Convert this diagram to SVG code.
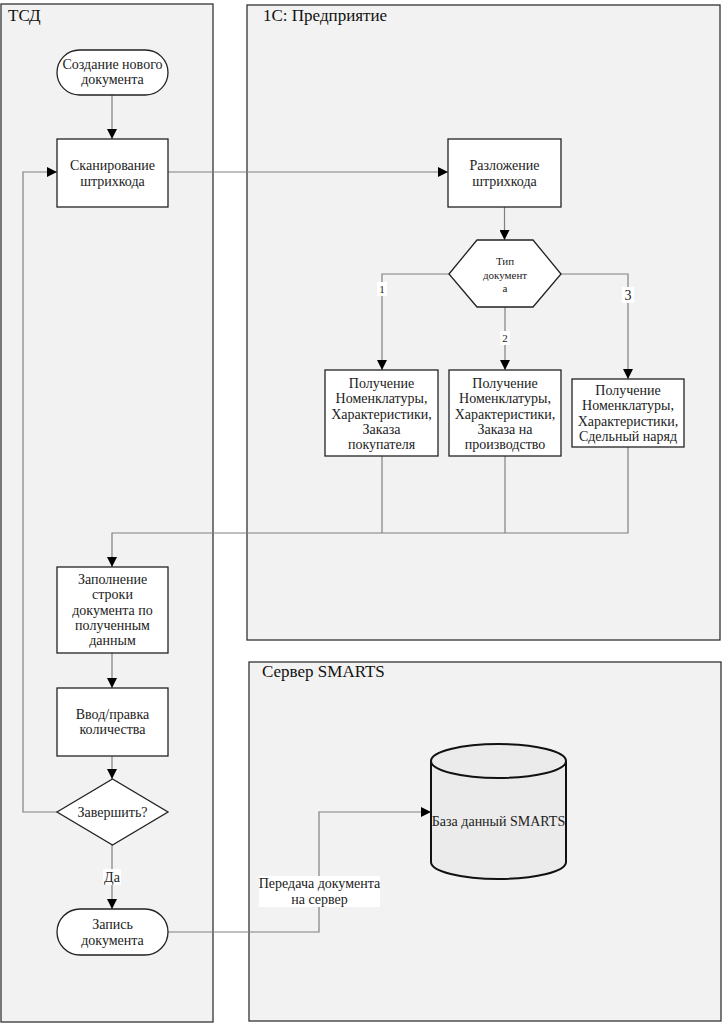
<svg xmlns="http://www.w3.org/2000/svg" width="723" height="1024" viewBox="0 0 723 1024">
<style>
.lane{fill:#f2f2f2;stroke:#333;stroke-width:1.3}
.node{fill:#fff;stroke:#222;stroke-width:1.3}
.db{fill:#ebebeb;stroke:#111;stroke-width:2}
.t{font-family:'Liberation Serif','DejaVu Serif',serif;font-size:14px;fill:#222;text-anchor:middle;dominant-baseline:central}
.s{font-family:'Liberation Serif','DejaVu Serif',serif;font-size:11px;fill:#222;text-anchor:middle;dominant-baseline:central}
.title{font-family:'Liberation Serif','DejaVu Serif',serif;font-size:17px;fill:#111}
.c{fill:none;stroke:#808080;stroke-width:1.2}
.ca{fill:none;stroke:#808080;stroke-width:1.2;marker-end:url(#arr)}
</style>
<defs>
<marker id="arr" viewBox="0 0 10 10" refX="10" refY="5" markerWidth="10" markerHeight="10" markerUnits="userSpaceOnUse" orient="auto">
<path d="M0,0 L10,5 L0,10 z" fill="#000"/>
</marker>
</defs>
<rect width="723" height="1024" fill="#fff"/>
<g id="lane-tsd"><rect class="lane" x="1" y="4" width="212" height="1018"/><text class="title" x="8" y="21">ТСД</text></g>
<g id="lane-1c"><rect class="lane" x="247" y="5" width="473" height="635"/><text class="title" x="263" y="21">1С: Предприятие</text></g>
<g id="lane-smarts"><rect class="lane" x="249" y="662" width="472" height="359"/><text class="title" x="262" y="677">Сервер SMARTS</text></g>

<g id="connectors">
<path class="ca" d="M112,95 L112,139"/>
<path class="ca" d="M168,172 L448,172"/>
<path class="ca" d="M504.5,207 L504.5,240"/>
<path class="ca" d="M449,274 L382,274 L382,370"/>
<path class="ca" d="M505,307 L505,370"/>
<path class="ca" d="M561,274 L628,274 L628,379"/>
<path class="c" d="M382,456 L382,533"/>
<path class="c" d="M505,456 L505,533"/>
<path class="ca" d="M628,447 L628,533 L112,533 L112,567"/>
<path class="ca" d="M112,653 L112,688"/>
<path class="ca" d="M112,756 L112,779"/>
<path class="ca" d="M57,812 L23,812 L23,172 L57,172"/>
<path class="ca" d="M112,845 L112,909"/>
<path class="ca" d="M168,932 L319,932 L319,812 L431,812"/>
<g id="label-1"><rect x="377" y="282" width="10" height="14" fill="#fff"/><text class="s" x="382" y="289">1</text></g>
<g id="label-2"><rect x="500" y="331" width="10" height="14" fill="#fff"/><text class="s" x="505" y="338">2</text></g>
<g id="label-3"><rect x="622" y="287" width="12" height="16" fill="#fff"/><text class="t" x="628" y="295">3</text></g>
<g id="label-da"><rect x="103" y="869" width="18" height="16" fill="#fff"/><text class="t" x="112" y="877">Да</text></g>
<g id="label-send"><rect x="259" y="876" width="121" height="31" fill="#fff"/><text class="t" x="319.5" y="883">Передача документа</text><text class="t" x="319.5" y="899">на сервер</text></g>
</g>

<g id="n-create"><rect class="node" x="57" y="50" width="111" height="45" rx="22.5"/><text class="t" x="112.5" y="64">Создание нового</text><text class="t" x="112.5" y="79">документа</text></g>
<g id="n-scan"><rect class="node" x="57" y="139" width="111" height="68"/><text class="t" x="112.5" y="165">Сканирование</text><text class="t" x="112.5" y="181">штрихкода</text></g>
<g id="n-parse"><rect class="node" x="448" y="139" width="113" height="68"/><text class="t" x="504.5" y="165">Разложение</text><text class="t" x="504.5" y="181">штрихкода</text></g>
<g id="n-type"><polygon class="node" points="449,274 477,240 533,240 561,274 533,307 477,307"/><text class="s" x="505" y="261">Тип</text><text class="s" x="505" y="275">документ</text><text class="s" x="505" y="288">а</text></g>
<g id="n-b1"><rect class="node" x="325" y="370" width="113" height="86"/><text class="t" x="381.5" y="383">Получение</text><text class="t" x="381.5" y="398">Номенклатуры,</text><text class="t" x="381.5" y="414">Характеристики,</text><text class="t" x="381.5" y="429">Заказа</text><text class="t" x="381.5" y="444">покупателя</text></g>
<g id="n-b2"><rect class="node" x="449" y="370" width="112" height="86"/><text class="t" x="505" y="383">Получение</text><text class="t" x="505" y="398">Номенклатуры,</text><text class="t" x="505" y="414">Характеристики,</text><text class="t" x="505" y="429">Заказа на</text><text class="t" x="505" y="444">производство</text></g>
<g id="n-b3"><rect class="node" x="572" y="379" width="112" height="68"/><text class="t" x="628" y="390">Получение</text><text class="t" x="628" y="405">Номенклатуры,</text><text class="t" x="628" y="421">Характеристики,</text><text class="t" x="628" y="436">Сдельный наряд</text></g>
<g id="n-fill"><rect class="node" x="57" y="567" width="111" height="86"/><text class="t" x="112.5" y="579">Заполнение</text><text class="t" x="112.5" y="594">строки</text><text class="t" x="112.5" y="610">документа по</text><text class="t" x="112.5" y="625">полученным</text><text class="t" x="112.5" y="640">данным</text></g>
<g id="n-qty"><rect class="node" x="57" y="688" width="111" height="68"/><text class="t" x="112.5" y="714">Ввод/правка</text><text class="t" x="112.5" y="729">количества</text></g>
<g id="n-finish"><polygon class="node" points="57,812 112.5,779 168,812 112.5,845"/><text class="t" x="112.5" y="812">Завершить?</text></g>
<g id="n-save"><rect class="node" x="57" y="909" width="111" height="46" rx="23"/><text class="t" x="112.5" y="924">Запись</text><text class="t" x="112.5" y="940">документа</text></g>
<g id="n-db"><path class="db" d="M431,761 A67.5,17 0 0 1 566,761 L566,862 A67.5,17 0 0 1 431,862 Z"/><path class="db" d="M431,761 A67.5,17 0 0 0 566,761" fill="none"/><text class="t" x="498.5" y="821">База данный SMARTS</text></g>
</svg>
